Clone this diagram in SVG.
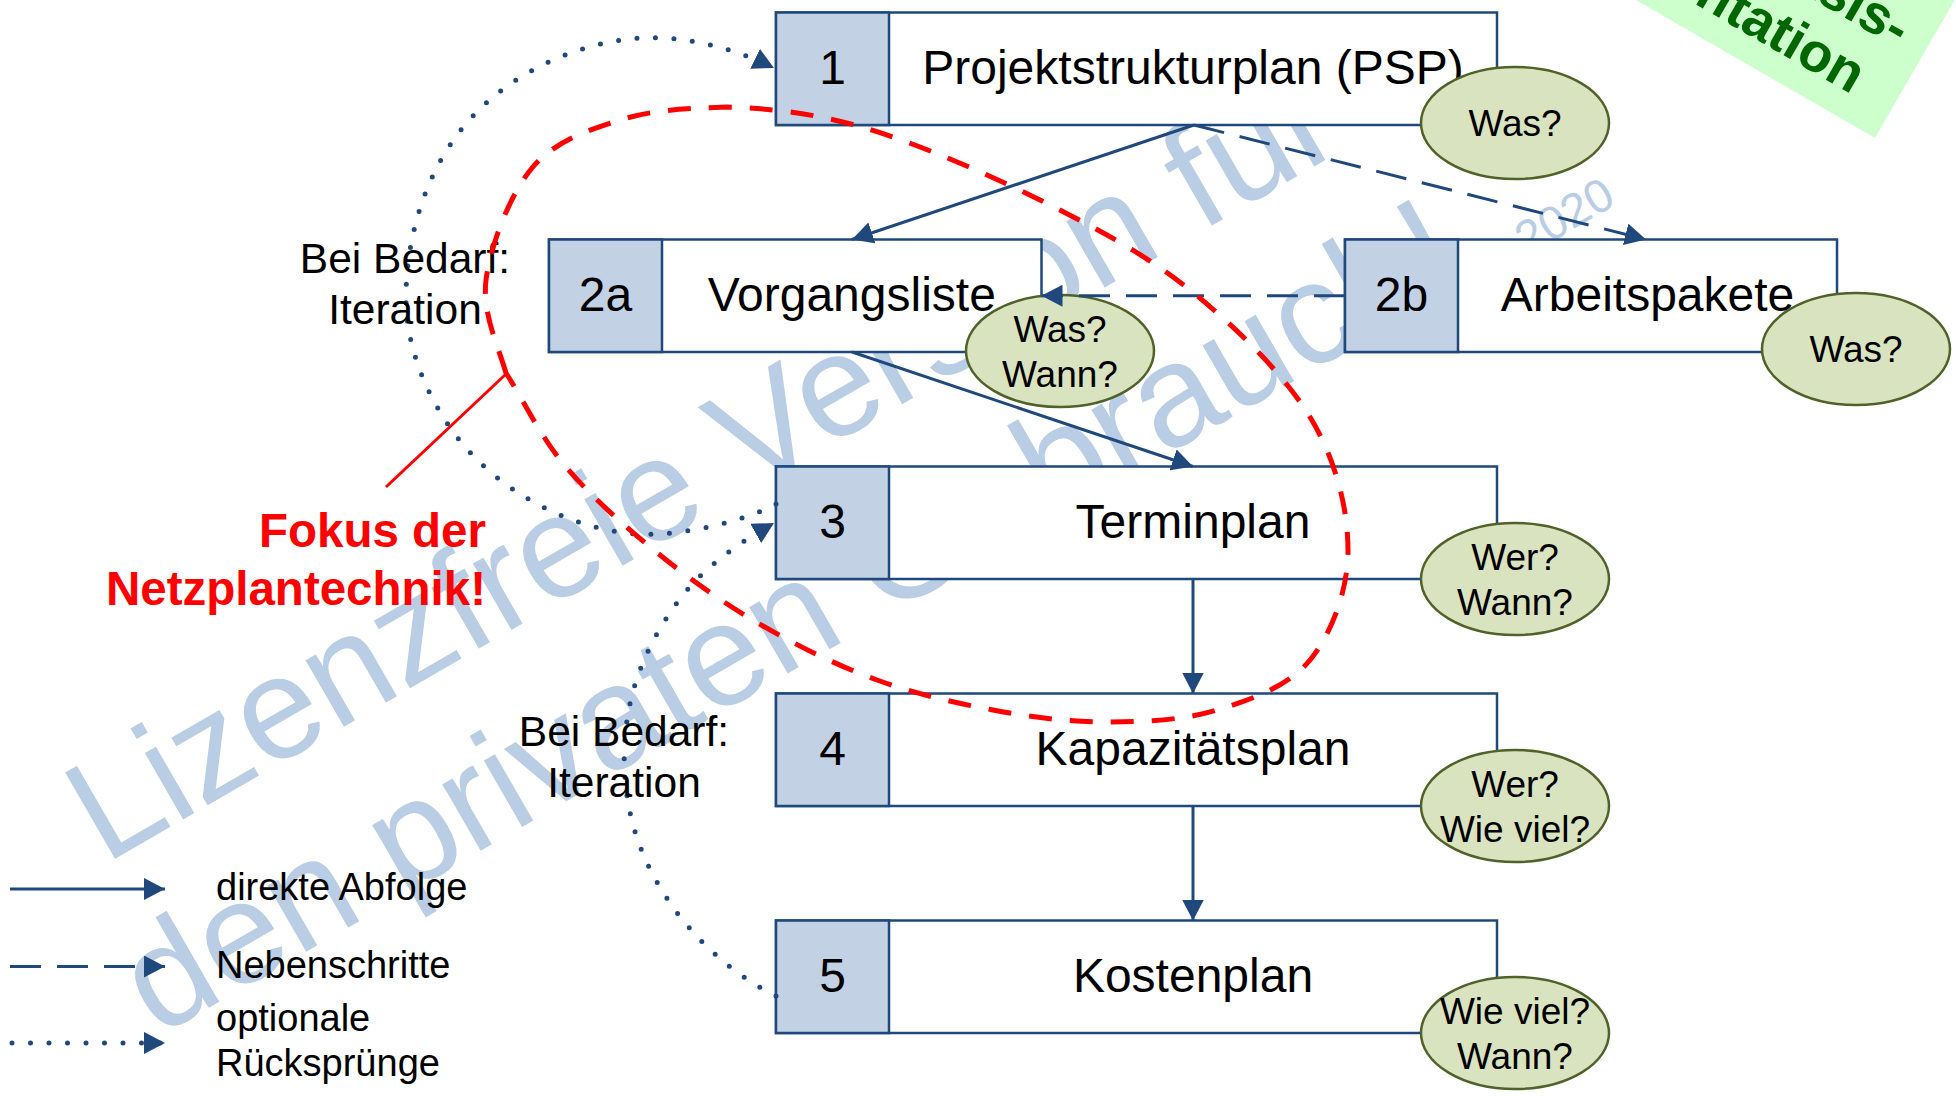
<svg xmlns="http://www.w3.org/2000/svg" width="1956" height="1096" viewBox="0 0 1956 1096">
  <style>
    text { font-family: "Liberation Sans", Arial, sans-serif; }
    .frame { fill: #FFFFFF; stroke: #1F497D; stroke-width: 2.5; }
    .cell { fill: #C3D1E4; stroke: #1F497D; stroke-width: 2.5; }
    .lbl { font-size: 48px; fill: #000000; text-anchor: middle; }
    .bubble { fill: #DAE3C0; stroke: #4F6228; stroke-width: 2.5; }
    .qt { font-size: 37px; fill: #000000; text-anchor: middle; }
    .conn { fill: none; stroke: #1F497D; stroke-width: 3; }
    .dash { stroke-dasharray: 31 16; }
    .dot { stroke-width: 5; stroke-linecap: round; stroke-dasharray: 0 18.5; }
    .note { font-size: 42.5px; fill: #000000; text-anchor: middle; }
    .legend { font-size: 38px; fill: #000000; }
    .wm { fill: #B9CDE5; }
  </style>
  <defs>
    <marker id="arrow" markerUnits="userSpaceOnUse" viewBox="0 0 21 22" markerWidth="21" markerHeight="22" refX="21" refY="11" orient="auto">
      <path d="M0,0 L21,11 L0,22 z" fill="#1F497D"/>
    </marker>
  </defs>

  <rect width="1956" height="1096" fill="#FFFFFF"/>

  <!-- watermark -->
  <g id="watermark" class="wm">
    <g transform="translate(726,506) rotate(-30)" text-anchor="middle">
      <text x="0" y="0" class="wm" style="font-size:145px">Lizenzfreie Version für</text>
      <text x="0" y="176" class="wm" style="font-size:145px">den privaten Gebrauch!</text>
    </g>
    <text transform="translate(1527,256) rotate(-30)" class="wm" style="font-size:47px">2020</text>
  </g>

  <!-- process steps -->
  <g id="step1">
    <rect class="frame" x="776" y="12.5" width="721" height="112.5"/>
    <rect class="cell" x="776" y="12.5" width="113" height="112.5"/>
    <text class="lbl" x="832.5" y="84">1</text>
    <text class="lbl" x="1193" y="84">Projektstrukturplan (PSP)</text>
  </g>
  <g id="step2a">
    <rect class="frame" x="549" y="239.5" width="492.5" height="112.5"/>
    <rect class="cell" x="549" y="239.5" width="113" height="112.5"/>
    <text class="lbl" x="605.5" y="311">2a</text>
    <text class="lbl" x="851.75" y="311">Vorgangsliste</text>
  </g>
  <g id="step2b">
    <rect class="frame" x="1345" y="239.5" width="492" height="112.5"/>
    <rect class="cell" x="1345" y="239.5" width="113" height="112.5"/>
    <text class="lbl" x="1401.5" y="311">2b</text>
    <text class="lbl" x="1647.5" y="311">Arbeitspakete</text>
  </g>
  <g id="step3">
    <rect class="frame" x="776" y="466.5" width="721" height="112.5"/>
    <rect class="cell" x="776" y="466.5" width="113" height="112.5"/>
    <text class="lbl" x="832.5" y="538">3</text>
    <text class="lbl" x="1193" y="538">Terminplan</text>
  </g>
  <g id="step4">
    <rect class="frame" x="776" y="693.5" width="721" height="112.5"/>
    <rect class="cell" x="776" y="693.5" width="113" height="112.5"/>
    <text class="lbl" x="832.5" y="765">4</text>
    <text class="lbl" x="1193" y="765">Kapazitätsplan</text>
  </g>
  <g id="step5">
    <rect class="frame" x="776" y="920.5" width="721" height="112.5"/>
    <rect class="cell" x="776" y="920.5" width="113" height="112.5"/>
    <text class="lbl" x="832.5" y="992">5</text>
    <text class="lbl" x="1193" y="992">Kostenplan</text>
  </g>

  <!-- question bubbles -->
  <g id="q1">
    <ellipse class="bubble" cx="1515" cy="123" rx="94" ry="56"/>
    <text class="qt" x="1515" y="136">Was?</text>
  </g>
  <g id="q2a">
    <ellipse class="bubble" cx="1060" cy="351" rx="94" ry="56"/>
    <text class="qt" x="1060" y="342">Was?</text>
    <text class="qt" x="1060" y="387">Wann?</text>
  </g>
  <g id="q2b">
    <ellipse class="bubble" cx="1856" cy="349" rx="94" ry="56"/>
    <text class="qt" x="1856" y="362">Was?</text>
  </g>
  <g id="q3">
    <ellipse class="bubble" cx="1515" cy="579" rx="94" ry="56"/>
    <text class="qt" x="1515" y="570">Wer?</text>
    <text class="qt" x="1515" y="615">Wann?</text>
  </g>
  <g id="q4">
    <ellipse class="bubble" cx="1515" cy="806" rx="94" ry="56"/>
    <text class="qt" x="1515" y="797">Wer?</text>
    <text class="qt" x="1515" y="842">Wie viel?</text>
  </g>
  <g id="q5">
    <ellipse class="bubble" cx="1515" cy="1033" rx="94" ry="56"/>
    <text class="qt" x="1515" y="1024">Wie viel?</text>
    <text class="qt" x="1515" y="1069">Wann?</text>
  </g>

  <!-- connectors -->
  <g id="connectors">
    <path class="conn" d="M1194,125 L852,239.5" marker-end="url(#arrow)"/>
    <path class="conn dash" d="M1194,125 L1646,239.5" marker-end="url(#arrow)"/>
    <path class="conn dash" d="M1345,295.75 L1041.5,295.75" marker-end="url(#arrow)"/>
    <path class="conn" d="M852,352 L1193,466.5" marker-end="url(#arrow)"/>
    <path class="conn" d="M1193,579 L1193,693.5" marker-end="url(#arrow)"/>
    <path class="conn" d="M1193,806 L1193,920.5" marker-end="url(#arrow)"/>
    <!-- optional jump back 3 -> 1 -->
    <path class="conn dot" d="M776,504 C748,520 680,537 637,534 C567,529 495,489 454,433 C426,395 406,346 406,298 C406,234 428,164 472,117 C512,74 571,45.5 630,39 C679,33.6 730,46.5 774,68" marker-end="url(#arrow)"/>
    <!-- optional jump back 5 -> 3 -->
    <path class="conn dot" d="M776,996 C708,962 651,895 632,821 C623,785 622,750 628,714 C635,672.5 654,633.6 679,600 C703,568 737,544 774,523" marker-end="url(#arrow)"/>
  </g>

  <!-- iteration notes -->
  <g id="note-top">
    <text class="note" x="405" y="273">Bei Bedarf:</text>
    <text class="note" x="405" y="324">Iteration</text>
  </g>
  <g id="note-bottom">
    <text class="note" x="624" y="746">Bei Bedarf:</text>
    <text class="note" x="624" y="797">Iteration</text>
  </g>

  <!-- focus area of network planning -->
  <g id="focus">
    <path d="M506,373 C498,345 482,314 486,280 C490.3,245.8 509.7,194.7 532,168 C554.3,141.3 587.5,130.2 620,120 C652.5,109.8 686.2,108.3 727,107 C767.8,108.3 812.8,112.5 865,128 C917.2,143.5 985.8,173 1040,200 C1094.2,227 1145,253.8 1190,290 C1235,326.2 1283.7,373.7 1310,417 C1336.3,460.3 1348,509.5 1348,550 C1348,590.5 1331.8,633.3 1310,660 C1288.2,686.7 1250.8,699.7 1217,710 C1183.2,720.3 1144.3,722 1107,722 C1069.7,722 1031.3,717.3 993,710 C954.7,702.7 915.3,694 877,680 C838.3,666 799.2,646.8 763,626 C726.8,605.2 692.8,581.5 660,555 C627.2,528.5 591.7,497.3 566,467 C540.3,436.7 526,404.3 506,373 Z" fill="none" stroke="#FF0000" stroke-width="5" stroke-dasharray="23 18"/>
    <line x1="506" y1="374" x2="386" y2="487" stroke="#FF0000" stroke-width="3"/>
    <text x="486" y="547" style="font-size:47.5px;font-weight:bold;fill:#FF0000;text-anchor:end">Fokus der</text>
    <text x="486" y="605" style="font-size:47.5px;font-weight:bold;fill:#FF0000;text-anchor:end">Netzplantechnik!</text>
  </g>

  <!-- legend -->
  <g id="legend">
    <path class="conn" d="M10,889 L165,889" marker-end="url(#arrow)"/>
    <path class="conn dash" d="M10,966.5 L165,966.5" marker-end="url(#arrow)"/>
    <path class="conn dot" d="M12,1043 L165,1043" marker-end="url(#arrow)"/>
    <text class="legend" x="216" y="900">direkte Abfolge</text>
    <text class="legend" x="216" y="978">Nebenschritte</text>
    <text class="legend" x="216" y="1031">optionale</text>
    <text class="legend" x="216" y="1076">Rücksprünge</text>
  </g>

  <!-- corner tag -->
  <g id="corner-tag" transform="translate(1875,138) rotate(30)">
    <rect x="-600" y="-300" width="600" height="300" fill="#CCFFCC"/>
    <text x="-26" y="-89" style="font-size:55px;font-weight:bold;fill:#006600;text-anchor:end">Basis-</text>
    <text x="-42" y="-26" style="font-size:55px;font-weight:bold;fill:#006600;text-anchor:end">Präsentation</text>
  </g>
</svg>
